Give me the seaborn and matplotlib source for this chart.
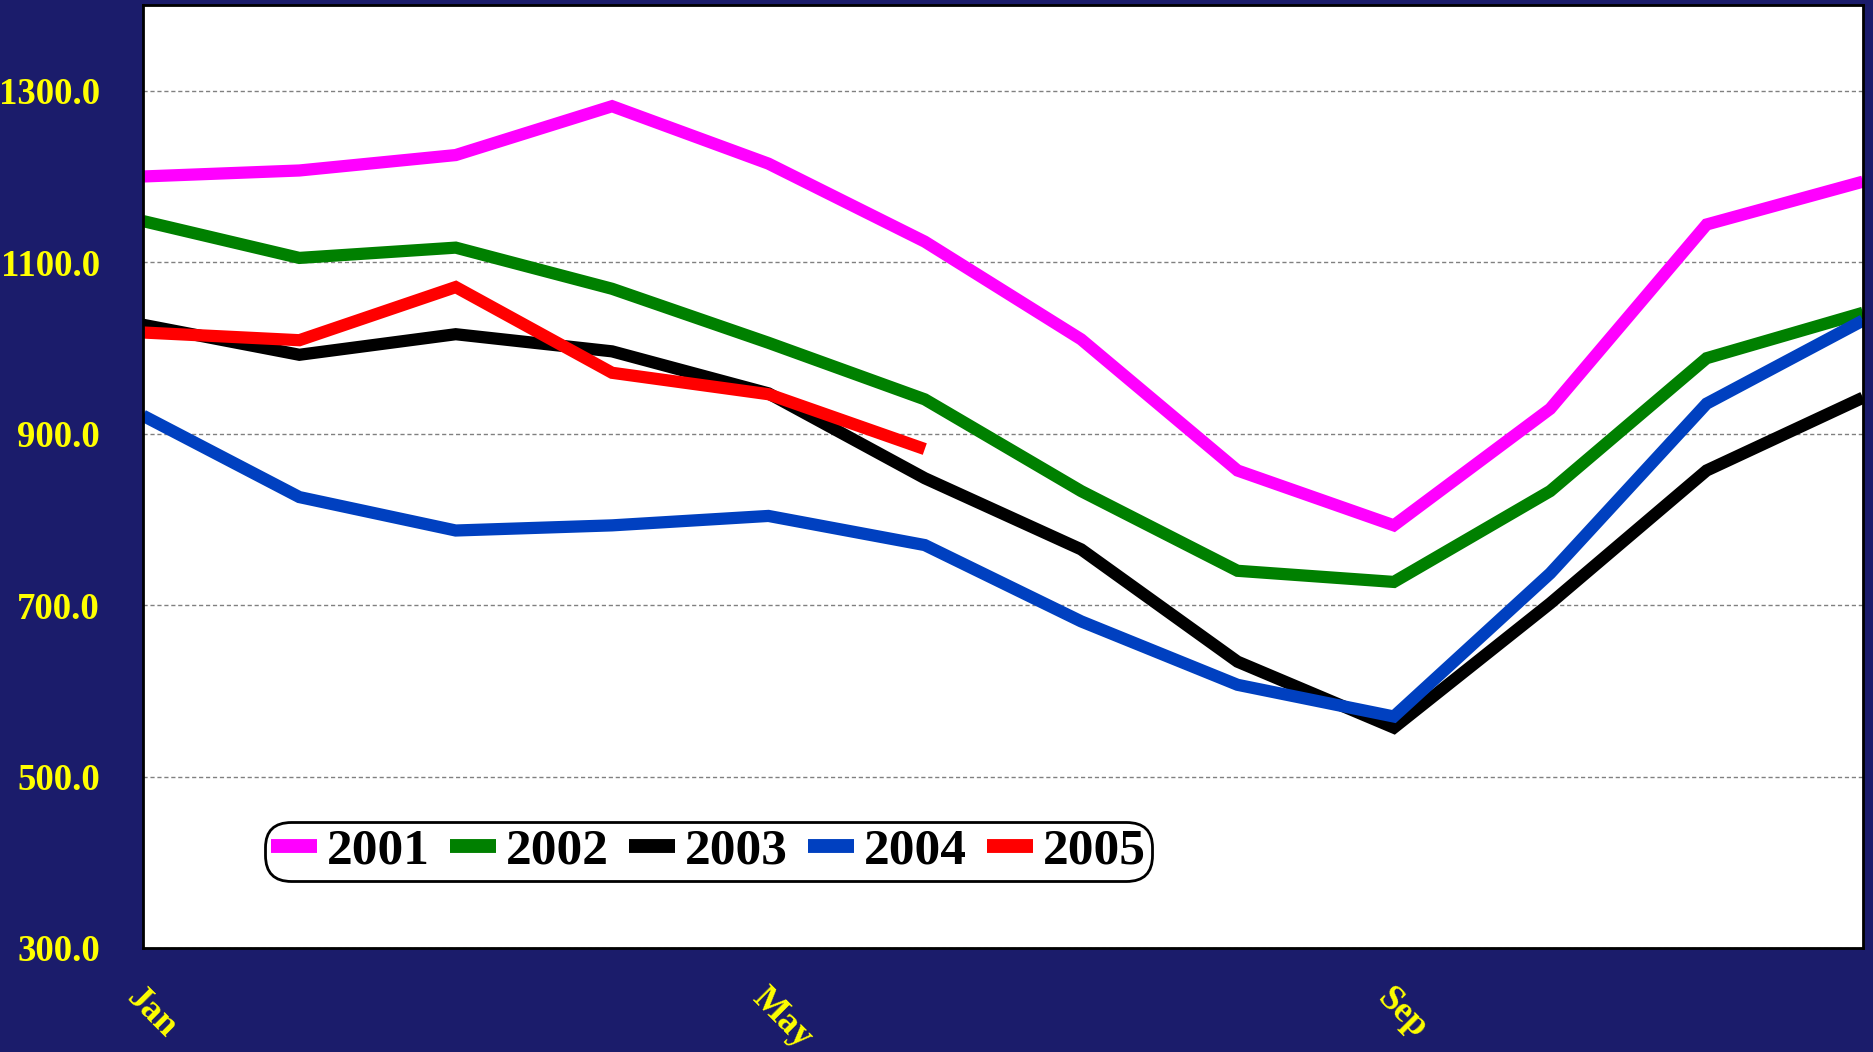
import numpy as np
import pandas as pd
import seaborn as sns
import matplotlib.pyplot as plt

# monthly values
months = ['Jan', 'Feb', 'Mar', 'Apr', 'May', 'Jun', 'Jul', 'Aug', 'Sep', 'Oct', 'Nov', 'Dec']
y2001 = [1200, 1207, 1225, 1282, 1215, 1124, 1010, 857, 793, 929, 1144, 1194]
y2002 = [1148, 1105, 1117, 1069, 1006, 940, 833, 740, 727, 833, 988, 1041]
y2003 = [1027, 992, 1016, 996, 947, 848, 765, 634, 557, 702, 857, 942]
y2004 = [921, 826, 787, 793, 804, 770, 681, 607, 570, 737, 935, 1032]
y2005 = [1018, 1009, 1071, 971, 946, 882]

years = ['2001', '2002', '2003', '2004', '2005']
series = [y2001, y2002, y2003, y2004, y2005]
colors = ['#ff00ff', '#008000', '#000000', '#0040c0', '#ff0000']

bg = '#1b1c6b'
plt.rcParams['font.family'] = ['Liberation Serif', 'DejaVu Serif']
plt.rcParams['font.weight'] = 'bold'

fig = plt.figure(figsize=(18.74, 10.52), dpi=100, facecolor=bg)
ax = fig.add_axes([0.0763, 0.0989, 0.9178, 0.8963])
ax.set_facecolor('white')

for yr, vals, c in zip(years, series, colors):
    df = pd.DataFrame({'month': np.arange(len(vals)), 'value': vals})
    sns.lineplot(data=df, x='month', y='value', ax=ax, color=c, linewidth=8.8,
                 label=yr, sort=False, solid_capstyle='butt', solid_joinstyle='miter')

ax.set_xlim(0, 11)
ax.set_ylim(300, 1400)
ax.set_yticks([300, 500, 700, 900, 1100, 1300])
ax.set_yticklabels([f'{v:.1f}' for v in [300, 500, 700, 900, 1100, 1300]],
                   fontsize=26.5, fontweight='bold', color='#ffff00')
ax.set_xticks([0, 4, 8])
ax.set_xticklabels([months[0], months[4], months[8]], fontsize=26, fontweight='bold',
                   color='#ffff00', rotation=-45, ha='left', va='top', rotation_mode='anchor')
ax.tick_params(axis='y', length=0, pad=31)
ax.tick_params(axis='x', length=0, pad=24)
ax.set_xlabel('')
ax.set_ylabel('')

ax.grid(axis='y', color='#808080', linestyle=(0, (3, 2)), linewidth=1)
ax.grid(axis='x', visible=False)
ax.set_axisbelow(True)
for s in ax.spines.values():
    s.set_color('black')
    s.set_linewidth(2)

leg = ax.legend(loc='lower left', bbox_to_anchor=(0.0709, 0.071), ncol=5, frameon=True,
                fancybox=True, borderaxespad=0, handlelength=0.9, handletextpad=0.18,
                columnspacing=0.4, borderpad=0.12,
                prop={'family': 'Liberation Serif', 'weight': 'bold', 'size': 37})
frame = leg.get_frame()
frame.set_edgecolor('black')
frame.set_linewidth(2)
frame.set_alpha(1)
frame.set_boxstyle('round', pad=0, rounding_size=0.5)
for h in leg.get_lines():
    h.set_linewidth(10)

fig.savefig('out.png', dpi=100, facecolor=bg)
